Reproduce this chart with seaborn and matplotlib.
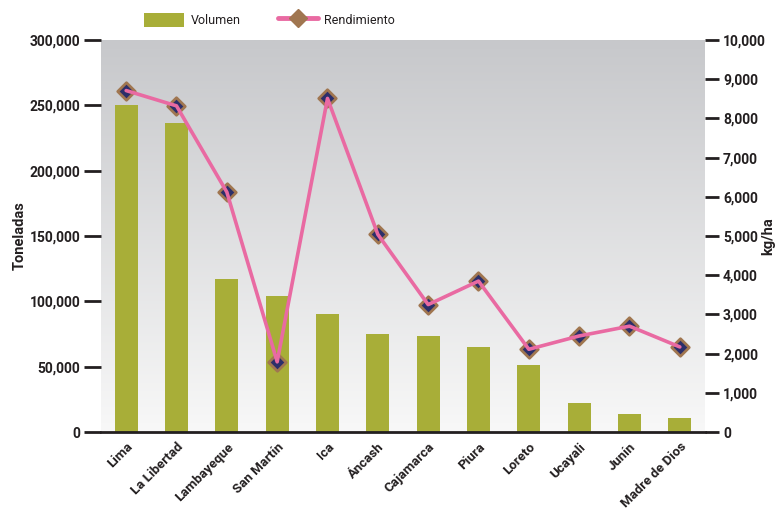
import numpy as np
import pandas as pd
import matplotlib
matplotlib.use("Agg")
import matplotlib.pyplot as plt
import seaborn as sns
from matplotlib.lines import Line2D
from matplotlib.patches import Patch
from matplotlib.ticker import FuncFormatter, FixedLocator
from matplotlib.colors import LinearSegmentedColormap

regiones = ["Lima", "La Libertad", "Lambayeque", "San Martín", "Ica", "Áncash",
            "Cajamarca", "Piura", "Loreto", "Ucayali", "Junín", "Madre de Dios"]
volumen = [250000, 236500, 117000, 104000, 90300, 75000,
           73500, 65000, 51300, 22200, 14000, 10700]
rendimiento = [8710, 8320, 6120, 1790, 8510, 5040,
               3250, 3850, 2110, 2450, 2700, 2170]

df = pd.DataFrame({"region": regiones, "volumen": volumen,
                   "rendimiento": rendimiento})
df["pos"] = np.arange(len(df))

sns.set_theme(style="white")
plt.rcParams["font.family"] = ["Roboto", "DejaVu Sans"]
dark = "#231f20"

fig = plt.figure(figsize=(7.82, 5.14), dpi=100)
ax = fig.add_axes([101/782, (514-432)/514, (705-101)/782, (432-40)/514])
ax.patch.set_visible(False)

# gradient background
grad = np.linspace(0, 1, 256).reshape(-1, 1)
cmap = LinearSegmentedColormap.from_list("g", ["#c7c8cb", "#f8f8f8"])
ax.imshow(grad, aspect="auto", cmap=cmap, extent=[0, 1, 0, 1],
          transform=ax.transAxes, zorder=0)

sns.barplot(data=df, x="pos", y="volumen", color="#a8ae38", saturation=1,
            width=0.46, ax=ax, zorder=2, native_scale=True, linewidth=0,
            edgecolor="none")
ax.set_xlim(-0.5, len(df) - 0.5)
ax.set_ylim(0, 300000)
ax.set_yticks(np.arange(0, 300001, 50000))
ax.yaxis.set_major_formatter(FuncFormatter(lambda v, p: f"{int(v):,}"))
ax.set_xticks(df["pos"])
ax.set_xticklabels(regiones, rotation=45, ha="right", rotation_mode="anchor",
                   fontweight="bold", fontsize=9.5, color=dark)
ax.xaxis.set_minor_locator(FixedLocator(np.arange(-0.5, len(df), 1.0)))
ax.tick_params(axis="x", which="major", length=0, pad=6)
ax.tick_params(axis="x", which="minor", length=12, width=1.6, direction="inout",
               color=dark)
ax.tick_params(axis="y", which="major", length=12, width=2, direction="out",
               color=dark, labelcolor=dark, labelsize=10, pad=3, left=True)
for lab in ax.get_yticklabels():
    lab.set_fontweight("bold")
ax.set_xlabel("")
ax.set_ylabel("Toneladas", fontweight="bold", fontsize=10.5, color=dark,
              labelpad=2)
for s in ["top", "right", "left"]:
    ax.spines[s].set_visible(False)
ax.spines["bottom"].set_color(dark)
ax.spines["bottom"].set_linewidth(2)
ax.spines["bottom"].set_zorder(5)

ax2 = ax.twinx()
ax2.patch.set_visible(False)
sns.scatterplot(data=df, x="pos", y="rendimiento", marker="D", s=80,
                color="#2c2f6a", edgecolor="#a07650", linewidth=2,
                ax=ax2, zorder=3, legend=False)
sns.lineplot(data=df, x="pos", y="rendimiento", color="#e96aa2", linewidth=2.6,
             ax=ax2, zorder=4, legend=False)
ax2.set_ylim(0, 10000)
ax2.set_yticks(np.arange(0, 10001, 1000))
ax2.yaxis.set_major_formatter(FuncFormatter(lambda v, p: f"{int(v):,}"))
ax2.tick_params(axis="y", which="major", length=10, width=2, direction="out",
                color=dark, labelcolor=dark, labelsize=10, pad=3, right=True)
for lab in ax2.get_yticklabels():
    lab.set_fontweight("bold")
ax2.set_ylabel("")
ax2.set_xlabel("")
fig.text(768/782, 1 - 236/514, "kg/ha", rotation=90, ha="center", va="center",
         fontweight="bold", fontsize=10.5, color=dark)
for s in ["top", "right", "left", "bottom"]:
    ax2.spines[s].set_visible(False)
ax2.set_xlim(-0.5, len(df) - 0.5)

handles = [Patch(facecolor="#a8ae38", edgecolor="none"),
           Line2D([0], [0], color="#e96aa2", linewidth=3.5, marker="D",
                  markersize=9, markerfacecolor="#a07650",
                  markeredgecolor="#a07650")]
fig.legend(handles, ["Volumen", "Rendimiento"], loc="center",
           bbox_to_anchor=(0.345, 1 - 20/514), ncol=2, frameon=False,
           fontsize=9, handlelength=3.2, handleheight=1.4, columnspacing=3.0,
           handletextpad=0.5, labelcolor=dark)

fig.savefig("out.png", dpi=100)
